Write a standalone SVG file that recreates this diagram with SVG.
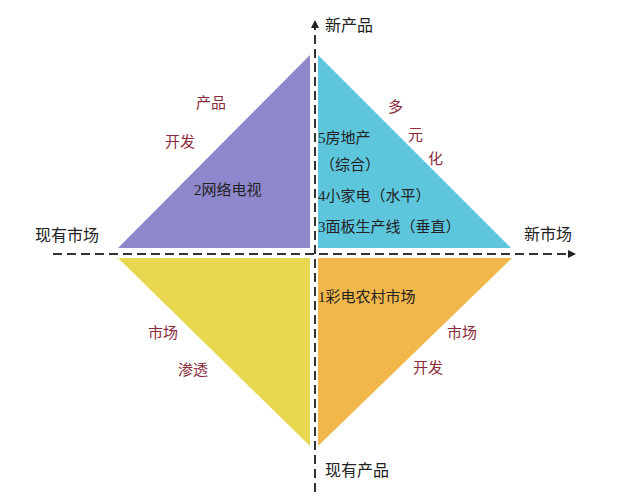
<svg xmlns="http://www.w3.org/2000/svg" width="623" height="500" viewBox="0 0 623 500">
<style>
text{font-family:"Liberation Serif","Noto Sans CJK SC",serif;font-size:15px}
.k{fill:#222}
.r{fill:#8a2b3c}
.ax{font-size:16px;fill:#222}
.axis{stroke:#333;stroke-width:2;stroke-dasharray:9,5;fill:none}
</style>
<defs>
<marker id="ah" viewBox="0 0 10 10" refX="5" refY="5" markerWidth="4" markerHeight="4" orient="auto">
<path d="M0,0 L10,5 L0,10 z" fill="#222"/>
</marker>
</defs>
<rect width="623" height="500" fill="#fff"/>
<g id="q-purple"><polygon points="310,55 118,248 310,248" fill="#8f87cc"/></g>
<g id="q-cyan"><polygon points="318,55 318,248 511,248" fill="#5dc6dd"/></g>
<g id="q-yellow"><polygon points="118,258 310,258 310,446" fill="#e8d84f"/></g>
<g id="q-orange"><polygon points="318,258 512,258 318,446" fill="#f1b74b"/></g>
<g id="connectors">
<line class="axis" x1="315" y1="492" x2="315" y2="24" marker-end="url(#ah)"/>
<line class="axis" x1="53" y1="254" x2="572" y2="254" marker-end="url(#ah)"/>
</g>
<g id="axis-labels">
<text class="ax" x="325" y="31">新产品</text>
<text class="ax" x="35" y="241">现有市场</text>
<text class="ax" x="524" y="240">新市场</text>
<text class="ax" x="325" y="476">现有产品</text>
</g>
<g id="n-product-dev">
<text class="r" x="196" y="108">产品</text>
<text class="r" x="165" y="147">开发</text>
<text class="k" x="194" y="195">2网络电视</text>
</g>
<g id="n-diversify">
<text class="r" x="388" y="112">多</text>
<text class="r" x="408" y="140">元</text>
<text class="r" x="428" y="164">化</text>
<text class="k" x="318" y="143">5房地产</text>
<text class="k" x="320" y="170">（综合）</text>
<text class="k" x="318" y="201">4小家电（水平）</text>
<text class="k" x="318" y="232">3面板生产线（垂直）</text>
</g>
<g id="n-market-pen">
<text class="r" x="148" y="338">市场</text>
<text class="r" x="178" y="375">渗透</text>
</g>
<g id="n-market-dev">
<text class="k" x="318" y="302">1彩电农村市场</text>
<text class="r" x="447" y="338">市场</text>
<text class="r" x="413" y="373">开发</text>
</g>
</svg>
